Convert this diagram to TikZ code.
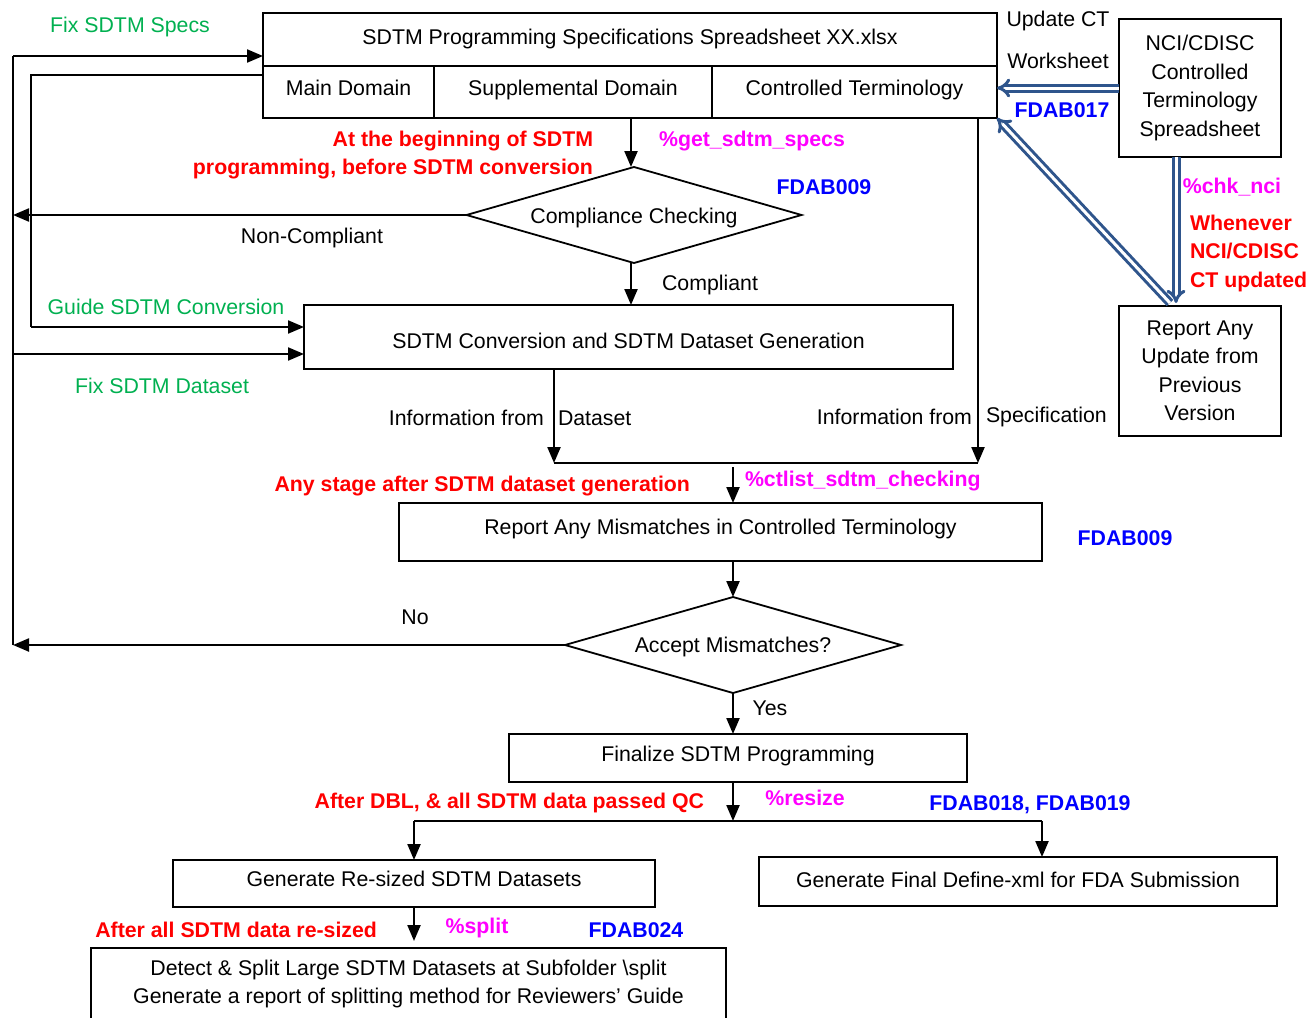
\documentclass[tikz,border=0pt]{standalone}
\usepackage{fontspec}
\setmainfont{Liberation Sans}
\usetikzlibrary{arrows.meta,shapes.geometric}
\definecolor{cgreen}{RGB}{0,176,80}
\definecolor{cred}{RGB}{255,0,0}
\definecolor{cmag}{RGB}{255,0,255}
\definecolor{cblue}{RGB}{0,0,255}
\definecolor{cnavy}{RGB}{47,85,140}
\begin{document}
\begin{tikzpicture}[x=1pt,y=-1pt,
 every node/.style={font=\fontsize{21.3}{28.5}\selectfont, inner sep=0pt, outer sep=0pt},
 box/.style={draw, line width=1.8pt, align=center, text height=16pt, text depth=5pt},
 tup/.style={text depth=5pt+2*#1},
 tdown/.style={text height=16pt+2*#1},
 dia/.style={draw, diamond, line width=1.8pt, inner sep=0pt, aspect=3.49, text height=16pt, text depth=5pt},
 arr/.style={line width=2.2pt, -{Triangle[length=16pt,width=13pt]}},
 ln/.style={line width=2.2pt},
 dbl/.style={draw=cnavy, line width=3pt, double=white, double distance=3pt, -{Implies}},
 grn/.style={text=cgreen},
 rd/.style={text=cred, font=\fontsize{21.3}{28.5}\selectfont\bfseries},
 mg/.style={text=cmag, font=\fontsize{21.3}{28.5}\selectfont\bfseries},
 bl/.style={text=cblue, font=\fontsize{21.3}{28.5}\selectfont\bfseries}
]
\useasboundingbox (0,0) rectangle (1311,1017);

% boxes
\node[box, tup=1pt, minimum width=734pt, minimum height=53pt] (title) at (630,39.5) {SDTM Programming Specifications Spreadsheet XX.xlsx};
\node[box, tup=2pt, minimum width=171pt, minimum height=52pt] (main) at (348.5,92) {Main Domain};
\node[box, tup=2pt, minimum width=278pt, minimum height=52pt] (supp) at (573,92) {Supplemental Domain};
\node[box, tup=2pt, minimum width=285pt, minimum height=52pt] (ct) at (854.5,92) {Controlled Terminology};
\node[box, text height=, text depth=, minimum width=162pt, minimum height=138pt] (nci) at (1200,88) {NCI/CDISC\\Controlled\\Terminology\\Spreadsheet};
\node[box, text height=, text depth=, minimum width=162pt, minimum height=130pt] (upd) at (1200,371) {Report Any\\Update from\\Previous\\Version};
\node[dia, tdown=3pt, minimum width=335pt, minimum height=96pt] (comp) at (634,215) {Compliance Checking};
\node[box, tdown=5.5pt, minimum width=649pt, minimum height=64pt] (conv) at (628.5,337) {SDTM Conversion and SDTM Dataset Generation};
\node[box, tup=3pt, minimum width=643pt, minimum height=58pt] (rep) at (720.5,532) {Report Any Mismatches in Controlled Terminology};
\node[dia, tdown=2pt, minimum width=336pt, minimum height=96pt] (acc) at (733,645) {Accept Mismatches?};
\node[box, tup=2pt, minimum width=458pt, minimum height=48pt] (fin) at (738,758) {Finalize SDTM Programming};
\node[box, tup=2.5pt, minimum width=482pt, minimum height=47pt] (res) at (414,883.5) {Generate Re-sized SDTM Datasets};
\node[box, minimum width=518pt, minimum height=49pt] (def) at (1018,881.5) {Generate Final Define-xml for FDA Submission};
\node[box, text height=, text depth=, minimum width=635pt, minimum height=72pt] (spl) at (408.5,984) {Detect \& Split Large SDTM Datasets at Subfolder \textbackslash split\\Generate a report of splitting method for Reviewers’ Guide};

% left rails
\coordinate (L1) at (13,56);
\coordinate (L2) at (13,645);
\coordinate (I1) at (31,75);
\coordinate (I2) at (31,327);
\coordinate (F2) at (13,354);
\draw[ln] (L2) -- (L1);
\draw[arr] (L1) -- (L1 -| title.west);
\draw[ln] (I1 -| main.west) -- (I1) -- (I2);
\draw[arr] (I2) -- (I2 -| conv.west);
\draw[arr] (F2) -- (F2 -| conv.west);
\draw[arr] (comp.west) -- (comp.west -| L1);
\draw[arr] (acc.west) -- (acc.west -| L1);

% main flow
\coordinate (A0) at (631,118);
\draw[arr] (A0) -- (A0 |- comp.north);
\draw[arr] (631,263) -- (631,305);
\coordinate (J1) at (554,463);
\coordinate (J2) at (978,463);
\coordinate (J3) at (733,467);
\draw[arr] (J1 |- conv.south) -- (J1);
\draw[arr] (J2 |- ct.south) -- (J2);
\draw[ln] (J1) -- (J2);
\draw[arr] (J3) -- (J3 |- rep.north);
\draw[arr] (acc.north |- rep.south) -- (acc.north);
\draw[arr] (acc.south) -- (acc.south |- fin.north);
\coordinate (K1) at (414,821);
\coordinate (K2) at (1042,821);
\coordinate (K3) at (733,821);
\draw[arr] (K3 |- fin.south) -- (K3);
\draw[ln] (K1) -- (K2);
\draw[arr] (K1) -- (K1 |- res.north);
\draw[arr] (K2) -- (K2 |- def.north);
\draw[arr, shorten >=7pt] (res.south) -- (spl.north -| res.south);

% double arrows
\coordinate (D1) at (1176,157);
\coordinate (D2) at (1176,303);
\coordinate (D3) at (1170,303);
\draw[dbl] (nci.west) -- (nci.west -| ct.east);
\draw[dbl] (D1) -- (D2);
\draw[dbl] (D3) -- (ct.south east);

% labels
\node[grn] (tfix) at (130,27) {Fix SDTM Specs};
\node[grn] (tguide) at (166,307) {Guide SDTM Conversion};
\node[grn] (tfixds) at (162,386) {Fix SDTM Dataset};
\node (tnon) at (312,238) {Non-Compliant};
\node[rd, anchor=east, align=right] (tbegin) at (593,155) {At the beginning of SDTM\\programming, before SDTM conversion};
\node[mg] (tget) at (752,141) {\%get\_sdtm\_specs};
\node[bl] (tfa) at (824,187) {FDAB009};
\node (tcomp) at (710,285) {Compliant};
\node[anchor=east] (tinf1) at (544,418) {Information from};
\node[anchor=west] (tds) at (558,418) {Dataset};
\node[anchor=east] (tinf2) at (972,417) {Information from};
\node[anchor=west] (tsp) at (986,417) {Specification};
\node[rd, anchor=east] (tany) at (690,486) {Any stage after SDTM dataset generation};
\node[mg, anchor=west] (tct) at (745,481) {\%ctlist\_sdtm\_checking};
\node[bl] (tfb) at (1125,538) {FDAB009};
\node (tno) at (415,617) {No};
\node (tyes) at (770,708) {Yes};
\node[rd, anchor=east] (tdbl) at (704,803) {After DBL, \& all SDTM data passed QC};
\node[mg] (tres) at (805,798) {\%resize};
\node[bl] (tfc) at (1030,805) {FDAB018, FDAB019};
\node[rd, anchor=east] (tall) at (377,930) {After all SDTM data re-sized};
\node[mg] (tspl) at (477,928) {\%split};
\node[bl] (tfd) at (636,930) {FDAB024};
\node (tupd) at (1058,21) {Update CT};
\node (twork) at (1058,61) {Worksheet};
\node[bl] (tfe) at (1062,110) {FDAB017};
\node[mg] (tchk) at (1232,187) {\%chk\_nci};
\node[rd, anchor=west, align=left] (twhen) at (1190,253) {Whenever\\NCI/CDISC\\CT updated};
\end{tikzpicture}
\end{document}
